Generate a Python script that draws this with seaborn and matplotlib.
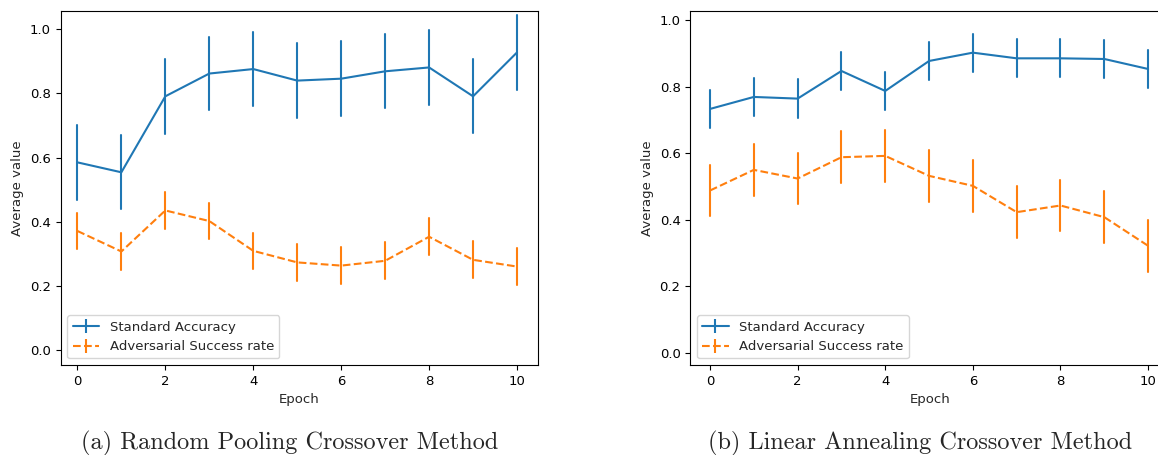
import numpy as np
import pandas as pd
import matplotlib
matplotlib.use("Agg")
import matplotlib.pyplot as plt
from matplotlib.lines import Line2D
import seaborn as sns

# ---------------- data ----------------
epochs = list(range(11))
series_names = ["Standard Accuracy", "Adversarial Success rate"]

# (a) Random Pooling Crossover Method
a_acc_mean = [0.585, 0.554, 0.791, 0.862, 0.876, 0.840, 0.846, 0.869, 0.881, 0.791, 0.928]
a_acc_err = [0.116, 0.115, 0.116, 0.115, 0.116, 0.116, 0.116, 0.115, 0.116, 0.115, 0.116]
a_adv_mean = [0.371, 0.307, 0.435, 0.402, 0.309, 0.273, 0.263, 0.278, 0.353, 0.281, 0.260]
a_adv_err = [0.057, 0.057, 0.057, 0.057, 0.057, 0.058, 0.057, 0.058, 0.058, 0.058, 0.057]

# (b) Linear Annealing Crossover Method
b_acc_mean = [0.733, 0.769, 0.764, 0.847, 0.787, 0.877, 0.902, 0.885, 0.885, 0.883, 0.853]
b_acc_err = [0.057, 0.057, 0.058, 0.057, 0.058, 0.056, 0.057, 0.057, 0.057, 0.057, 0.057]
b_adv_mean = [0.488, 0.550, 0.524, 0.588, 0.592, 0.532, 0.502, 0.423, 0.443, 0.408, 0.322]
b_adv_err = [0.078, 0.078, 0.078, 0.078, 0.078, 0.078, 0.078, 0.078, 0.078, 0.079, 0.078]

captions = ["(a) Random Pooling Crossover Method", "(b) Linear Annealing Crossover Method"]
x_ticks = [0, 2, 4, 6, 8, 10]
y_ticks = [0.0, 0.2, 0.4, 0.6, 0.8, 1.0]

colors = ["#1f77b4", "#ff7f0e"]


def long_form(acc_m, acc_e, adv_m, adv_e):
    rows = []
    for name, mean, err in [(series_names[0], acc_m, acc_e), (series_names[1], adv_m, adv_e)]:
        for ep, m, e in zip(epochs, mean, err):
            # two samples per epoch: their mean is m, their full range is m +/- e
            rows.append({"Epoch": ep, "value": m - e, "series": name})
            rows.append({"Epoch": ep, "value": m + e, "series": name})
    return pd.DataFrame(rows)


df_a = long_form(a_acc_mean, a_acc_err, a_adv_mean, a_adv_err)
df_b = long_form(b_acc_mean, b_acc_err, b_adv_mean, b_adv_err)

# ---------------- style ----------------
sns.set_style("ticks", rc={
    "axes.edgecolor": "black",
    "xtick.color": "black",
    "ytick.color": "black",
    "xtick.major.size": 3.5,
    "ytick.major.size": 3.5,
    "axes.linewidth": 0.9,
})
plt.rcParams["font.family"] = ["DejaVu Sans"]

W, H = 1158, 455
fig = plt.figure(figsize=(W / 100, H / 100), dpi=100)


def ax_rect(left, right, top, bottom):
    return [left / W, 1 - bottom / H, (right - left) / W, (bottom - top) / H]


ax_a = fig.add_axes(ax_rect(60.7, 537.7, 10.7, 365))
ax_b = fig.add_axes(ax_rect(690.3, 1170, 10.7, 365))

panels = [
    (ax_a, df_a, (-0.38, 10.47), (-0.047, 1.058)),
    (ax_b, df_b, (-0.45, 10.5), (-0.036, 1.028)),
]

for ax, df, xl, yl in panels:
    sns.lineplot(
        data=df, x="Epoch", y="value", hue="series", style="series",
        hue_order=series_names, style_order=series_names,
        palette=colors, dashes=["", (3.7, 1.6)],
        estimator="mean", errorbar=("pi", 100), err_style="bars",
        err_kws={"elinewidth": 1.5, "capsize": 0},
        linewidth=1.5, ax=ax, legend=False,
    )
    ax.set_xlim(*xl)
    ax.set_ylim(*yl)
    ax.set_xticks(x_ticks)
    ax.set_yticks(y_ticks)
    ax.set_yticklabels([f"{t:.1f}" for t in y_ticks])
    ax.tick_params(labelsize=9.5, width=0.8)
    ax.set_xlabel("Epoch", fontsize=9.5)
    ax.set_ylabel("Average value", fontsize=9.5)
    handles = [
        Line2D([], [], color=colors[0], linestyle="-", linewidth=1.5,
               marker="|", markersize=10, markeredgewidth=1.5),
        Line2D([], [], color=colors[1], linestyle=(0, (3.7, 1.6)), linewidth=1.5,
               marker="|", markersize=10, markeredgewidth=1.5),
    ]
    ax.legend(handles, series_names, loc="lower left", fontsize=9.5,
              frameon=True, framealpha=0.8, edgecolor="0.8", fancybox=True)

fig.text(290 / W, 1 - 449 / H, captions[0], family="cmr10", fontsize=17.5,
         ha="center", va="baseline")
fig.text(920 / W, 1 - 449 / H, captions[1], family="cmr10", fontsize=17.5,
         ha="center", va="baseline")

fig.savefig("out.png", dpi=100)
